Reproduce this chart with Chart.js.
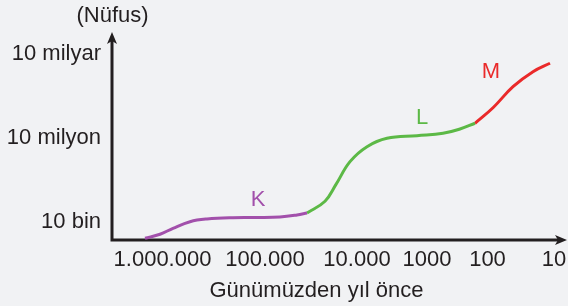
<!DOCTYPE html>
<html><head><meta charset="utf-8">
<script src="https://cdn.jsdelivr.net/npm/chart.js@4/dist/chart.umd.min.js"></script>
<style>html,body{margin:0;padding:0;background:#f1f2f4;}#wrap{width:568px;height:306px;position:relative;}</style>
</head><body><div id="wrap"><canvas id="c"></canvas></div>
<script>
// ---- data ----
const xTickPositions = [50.5, 153, 245, 315, 375.5, 442];
const xTickLabels = ['1.000.000', '100.000', '10.000', '1000', '100', '10'];
const yTickValues = [1e4, 1e7, 1e10];
const yTickLabels = ['10 bin', '10 milyon', '10 milyar'];

const kX = [33, 48, 61, 78, 95, 121, 145, 168, 185, 195];
const kY = [2620, 3640, 5960, 10250, 12800, 14300, 14500, 15100, 17800, 20900];
const lX = [195, 213, 224, 238, 255, 275, 305, 331, 348, 363];
const lY = [20900, 55000, 220000, 1.43e6, 4.89e6, 9.75e6, 1.21e7, 1.47e7, 2.10e7, 3.35e7];
const mX = [363, 381, 401, 421, 438];
const mY = [3.35e7, 1.2e8, 6.8e8, 2.33e9, 4.66e9];

const segLabels = ['K', 'L', 'M'];
const segLabelX = [146, 310, 379];
const segLabelY = [61000, 5.0e7, 2.24e9];

const xTitle = 'Günümüzden yıl önce';
const yTitle = '(Nüfus)';

// ---- styles ----
const FONT = '"Liberation Sans", Arial, sans-serif';
const TXT = '#231f20';
const COLORS = ['#a250ab', '#5cb946', '#ea2a2a'];

const pts = (xs, ys) => xs.map((x, i) => ({x: x, y: ys[i]}));

const decor = {
  id: 'decor',
  beforeDraw(chart) {
    const c = chart.ctx;
    c.save();
    c.fillStyle = '#f1f2f4';
    c.fillRect(0, 0, chart.width, chart.height);
    c.restore();
  },
  beforeDatasetsDraw(chart) {
    const c = chart.ctx, a = chart.chartArea;
    c.save();
    c.strokeStyle = TXT; c.fillStyle = TXT; c.lineWidth = 3;
    c.beginPath();
    c.moveTo(a.left, a.bottom + 1.5); c.lineTo(a.left, a.top + 8);
    c.moveTo(a.left - 1.5, a.bottom); c.lineTo(a.right - 8, a.bottom);
    c.stroke();
    // y arrow
    c.beginPath();
    c.moveTo(a.left, a.top - 1);
    c.lineTo(a.left - 5, a.top + 11);
    c.lineTo(a.left, a.top + 8);
    c.lineTo(a.left + 5, a.top + 11);
    c.closePath(); c.fill();
    // x arrow
    c.beginPath();
    c.moveTo(a.right + 1, a.bottom);
    c.lineTo(a.right - 11, a.bottom - 5);
    c.lineTo(a.right - 8, a.bottom);
    c.lineTo(a.right - 11, a.bottom + 5);
    c.closePath(); c.fill();
    c.restore();
  },
  afterDraw(chart) {
    const c = chart.ctx, a = chart.chartArea;
    const xs = chart.scales.x, ys = chart.scales.y;
    c.save();
    c.font = '22px ' + FONT;
    c.textBaseline = 'middle'; c.textAlign = 'center';
    segLabels.forEach((t, i) => {
      c.fillStyle = COLORS[i];
      c.fillText(t, xs.getPixelForValue(segLabelX[i]), ys.getPixelForValue(segLabelY[i]));
    });
    c.fillStyle = TXT;
    c.textBaseline = 'alphabetic';
    c.fillText(yTitle, a.left + 0.5, 22);
    c.fillText(xTitle, 316.5, 297);
    c.restore();
  }
};

new Chart(document.getElementById('c'), {
  type: 'line',
  data: {
    datasets: [
      {data: pts(kX, kY), borderColor: COLORS[0]},
      {data: pts(lX, lY), borderColor: COLORS[1]},
      {data: pts(mX, mY), borderColor: COLORS[2]}
    ]
  },
  options: {
    responsive: true, maintainAspectRatio: false, animation: false, devicePixelRatio: 1,
    layout: {padding: {top: 33, right: 2, left: 0, bottom: 0}},
    datasets: {line: {borderWidth: 3, pointRadius: 0, fill: false, tension: 0.4, borderCapStyle: 'butt', borderJoinStyle: 'round'}},
    plugins: {legend: {display: false}, tooltip: {enabled: false}},
    scales: {
      x: {
        type: 'linear', min: 0, max: 454,
        afterFit(s) { s.height = 66; },
        afterBuildTicks(s) { s.ticks = xTickPositions.map(v => ({value: v})); },
        grid: {display: false, drawTicks: true, tickLength: 7, tickColor: 'rgba(0,0,0,0)'}, border: {display: false},
        ticks: {callback: (v, i) => xTickLabels[i], font: {size: 22, family: FONT}, color: TXT, padding: 0, maxRotation: 0, autoSkip: false}
      },
      y: {
        type: 'logarithmic', min: 2275, max: 5.6e10,
        afterFit(s) { s.width = 112; },
        afterBuildTicks(s) { s.ticks = yTickValues.map(v => ({value: v})); },
        grid: {display: false, drawTicks: true, tickLength: 11, tickColor: 'rgba(0,0,0,0)'}, border: {display: false},
        ticks: {callback: (v, i) => yTickLabels[i], font: {size: 22, family: FONT}, color: TXT, padding: 0, autoSkip: false}
      }
    }
  },
  plugins: [decor]
});
</script>
</body></html>
